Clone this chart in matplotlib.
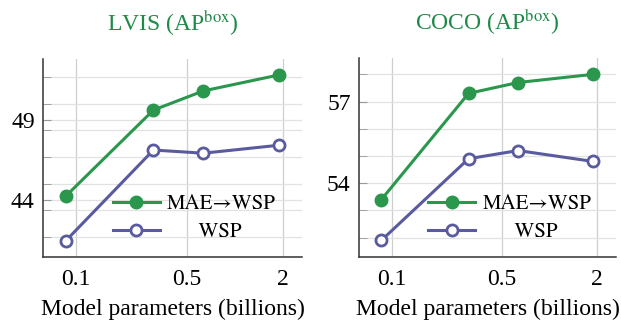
import numpy as np
import matplotlib
matplotlib.use("Agg")
import matplotlib.pyplot as plt
from matplotlib.ticker import FixedLocator, NullLocator, MultipleLocator

plt.rcParams['font.family'] = ['Liberation Serif', 'DejaVu Serif']
plt.rcParams['mathtext.fontset'] = 'stix'

# model sizes in billions of parameters (ViT-B, ViT-L, ViT-H, ViT-2B)
params_b = [0.086, 0.307, 0.632, 1.89]
x_ticks = [0.1, 0.5, 2]
x_ticklabels = ['0.1', '0.5', '2']

lvis_mae_wsp = [44.2, 49.6, 50.8, 51.8]
lvis_wsp = [41.4, 47.1, 46.9, 47.4]
coco_mae_wsp = [53.4, 57.3, 57.7, 58.0]
coco_wsp = [51.9, 54.9, 55.2, 54.8]

green = '#2a974d'
purple = '#5a5b9f'
title_green = '#1e8a48'
fs = 17
leg_fs = 15

panels = [
    dict(title=r'LVIS (AP$^{\mathrm{box}}$)', mae=lvis_mae_wsp, wsp=lvis_wsp,
         ylim=(40.4, 52.8), ymajor=[44, 49], ystep=5 / 3,
         pos=[0.0692, 0.1994, 0.4171, 0.6168], leg_x=0.27),
    dict(title=r'COCO (AP$^{\mathrm{box}}$)', mae=coco_mae_wsp, wsp=coco_wsp,
         ylim=(51.29, 58.6), ymajor=[54, 57], ystep=1,
         pos=[0.578, 0.1994, 0.414, 0.6199], leg_x=0.27),
]

fig = plt.figure(figsize=(6.21, 3.21), dpi=100)

for p in panels:
    ax = fig.add_axes(p['pos'])
    ax.set_xscale('log')
    ax.set_xlim(0.062, 2.64)
    ax.set_ylim(*p['ylim'])

    ax.plot(params_b, p['mae'], color=green, lw=2.2, marker='o', ms=9,
            label='MAE\u2192WSP', zorder=3)
    ax.plot(params_b, p['wsp'], color=purple, lw=2.2, marker='o', ms=8,
            mfc='white', mew=2.0, label='      WSP', zorder=3)

    ax.xaxis.set_major_locator(FixedLocator(x_ticks))
    ax.xaxis.set_minor_locator(NullLocator())
    ax.set_xticklabels(x_ticklabels)
    ax.yaxis.set_major_locator(FixedLocator(p['ymajor']))
    ax.yaxis.set_minor_locator(MultipleLocator(p['ystep']))

    ax.grid(True, which='major', axis='x', color='#cfcfcf', lw=0.9)
    ax.grid(True, which='both', axis='y', color='#e2e2e2', lw=0.9)
    ax.set_axisbelow(True)

    for side in ['top', 'right']:
        ax.spines[side].set_visible(False)
    for side in ['left', 'bottom']:
        ax.spines[side].set_color('#333333')
        ax.spines[side].set_linewidth(1.1)

    ax.tick_params(axis='y', which='both', direction='in', length=6,
                   color='#999999', labelsize=fs, pad=6)
    ax.tick_params(axis='x', which='both', direction='in', length=0,
                   labelsize=fs, pad=9)
    ax.set_xlabel('Model parameters (billions)', fontsize=fs, labelpad=6)
    ax.set_title(p['title'], color=title_green, fontsize=fs, pad=20)

    leg = ax.legend(loc='upper left', bbox_to_anchor=(p['leg_x'], 0.315),
                    frameon=False,
                    prop={'family': 'STIXGeneral', 'size': leg_fs},
                    handlelength=2.25, handletextpad=0.35, labelspacing=0.4,
                    borderpad=0, borderaxespad=0)

fig.savefig('out.png', dpi=100)
